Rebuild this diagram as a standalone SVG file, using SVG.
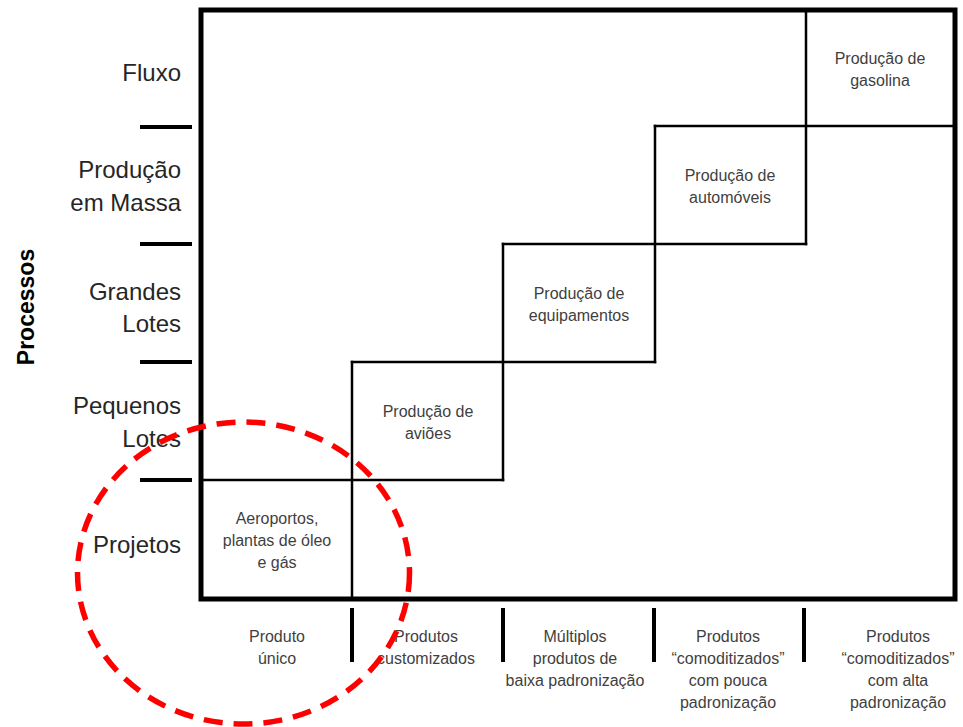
<svg xmlns="http://www.w3.org/2000/svg" width="963" height="727" viewBox="0 0 963 727">
  <style>
    .frame { fill: none; stroke: #000; stroke-width: 5; }
    .grid { stroke: #000; stroke-width: 2.5; fill: none; stroke-linecap: square; }
    .tick { stroke: #000; stroke-width: 4; }
    .row { font-family: "Liberation Sans", Arial, sans-serif; font-size: 24px; fill: #262626; text-anchor: end; }
    .cell { font-family: "Liberation Sans", Arial, sans-serif; font-size: 16px; fill: #3f3f3f; text-anchor: middle; }
    .axis { font-family: "Liberation Sans", Arial, sans-serif; font-size: 23px; font-weight: bold; fill: #000; text-anchor: middle; }
    .focus { fill: none; stroke: #ff0000; stroke-width: 5.5; stroke-dasharray: 19 11; }
  </style>
  <rect width="963" height="727" fill="#fff"/>

  <!-- outer matrix frame -->
  <rect class="frame" x="201" y="10" width="754" height="589"/>

  <!-- staircase grid lines -->
  <g id="connectors" class="grid">
    <line x1="201" y1="480" x2="503" y2="480"/>
    <line x1="352" y1="362" x2="655" y2="362"/>
    <line x1="503" y1="244" x2="806" y2="244"/>
    <line x1="655" y1="126" x2="955" y2="126"/>
    <line x1="352" y1="362" x2="352" y2="599"/>
    <line x1="503" y1="244" x2="503" y2="480"/>
    <line x1="655" y1="126" x2="655" y2="362"/>
    <line x1="806" y1="10" x2="806" y2="244"/>
  </g>

  <!-- row separators on the left axis -->
  <g id="row-ticks" class="tick">
    <line x1="140" y1="127" x2="192" y2="127"/>
    <line x1="140" y1="244" x2="192" y2="244"/>
    <line x1="140" y1="362" x2="192" y2="362"/>
    <line x1="140" y1="480" x2="192" y2="480"/>
  </g>

  <!-- column separators on the bottom axis -->
  <g id="col-ticks" class="tick">
    <line x1="352" y1="608" x2="352" y2="662"/>
    <line x1="503" y1="608" x2="503" y2="662"/>
    <line x1="654" y1="608" x2="654" y2="662"/>
    <line x1="804" y1="608" x2="804" y2="662"/>
  </g>

  <!-- vertical axis title -->
  <text class="axis" transform="translate(34,307) rotate(-90)">Processos</text>

  <!-- process rows -->
  <g id="row-fluxo"><text class="row" x="181" y="81">Fluxo</text></g>
  <g id="row-massa"><text class="row" x="181" y="178">Produção</text><text class="row" x="181" y="211">em Massa</text></g>
  <g id="row-grandes"><text class="row" x="181" y="300">Grandes</text><text class="row" x="181" y="332">Lotes</text></g>
  <g id="row-pequenos"><text class="row" x="181" y="414">Pequenos</text><text class="row" x="181" y="447">Lotes</text></g>
  <g id="row-projetos"><text class="row" x="181" y="553">Projetos</text></g>

  <!-- diagonal cells -->
  <g id="cell-gasolina">
    <text class="cell" x="880" y="64">Produção de</text>
    <text class="cell" x="880" y="86">gasolina</text>
  </g>
  <g id="cell-automoveis">
    <text class="cell" x="730" y="181">Produção de</text>
    <text class="cell" x="730" y="203">automóveis</text>
  </g>
  <g id="cell-equipamentos">
    <text class="cell" x="579" y="299">Produção de</text>
    <text class="cell" x="579" y="321">equipamentos</text>
  </g>
  <g id="cell-avioes">
    <text class="cell" x="428" y="417">Produção de</text>
    <text class="cell" x="428" y="439">aviões</text>
  </g>
  <g id="cell-aeroportos">
    <text class="cell" x="277" y="524">Aeroportos,</text>
    <text class="cell" x="277" y="546">plantas de óleo</text>
    <text class="cell" x="277" y="568">e gás</text>
  </g>

  <!-- product columns -->
  <g id="col-unico">
    <text class="cell" x="277" y="642">Produto</text>
    <text class="cell" x="277" y="664">único</text>
  </g>
  <g id="col-customizados">
    <text class="cell" x="426" y="642">Produtos</text>
    <text class="cell" x="426" y="664">customizados</text>
  </g>
  <g id="col-multiplos">
    <text class="cell" x="575" y="642">Múltiplos</text>
    <text class="cell" x="575" y="664">produtos de</text>
    <text class="cell" x="575" y="686">baixa padronização</text>
  </g>
  <g id="col-pouca">
    <text class="cell" x="728" y="642">Produtos</text>
    <text class="cell" x="728" y="664">“comoditizados”</text>
    <text class="cell" x="728" y="686">com pouca</text>
    <text class="cell" x="728" y="708">padronização</text>
  </g>
  <g id="col-alta">
    <text class="cell" x="898" y="642">Produtos</text>
    <text class="cell" x="898" y="664">“comoditizados”</text>
    <text class="cell" x="898" y="686">com alta</text>
    <text class="cell" x="898" y="708">padronização</text>
  </g>

  <!-- highlight around the project / single-product corner -->
  <ellipse id="highlight" class="focus" cx="243.5" cy="573" rx="166" ry="151"/>
</svg>
